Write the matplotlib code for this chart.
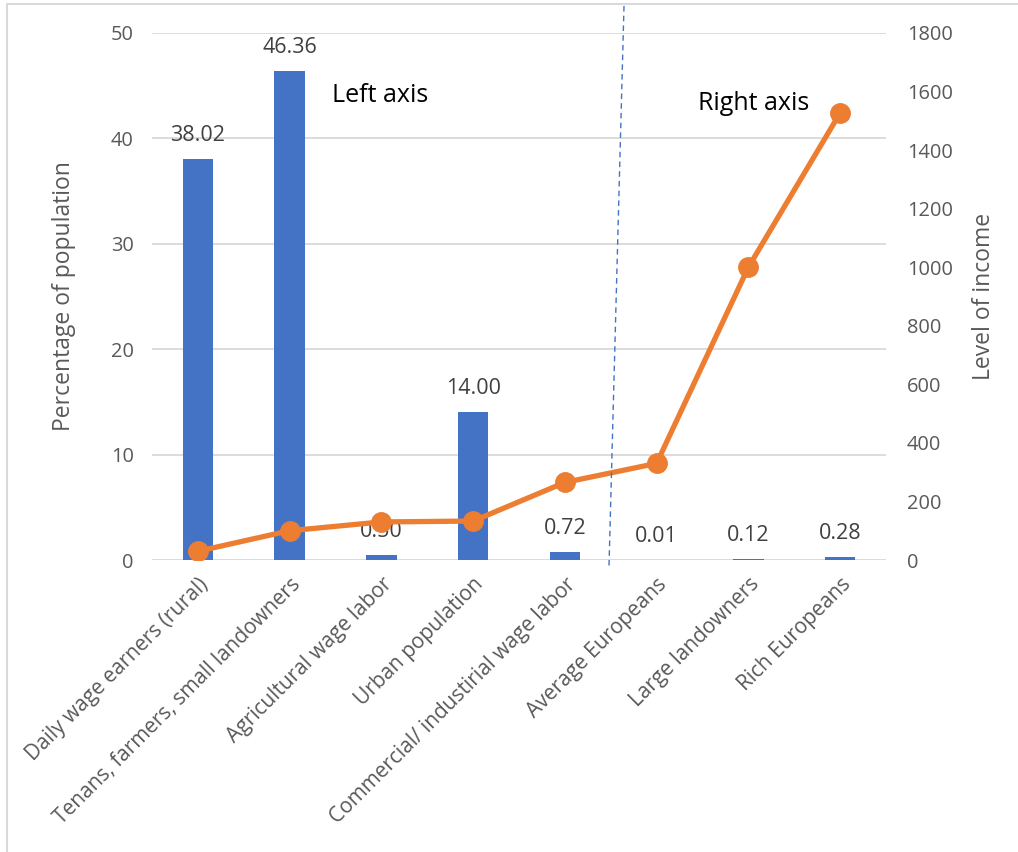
import matplotlib
matplotlib.use("Agg")
import matplotlib.pyplot as plt
from matplotlib.lines import Line2D

categories = ["Daily wage earners (rural)", "Tenans, farmers, small landowners",
              "Agricultural wage labor", "Urban population",
              "Commercial/ industirial wage labor", "Average Europeans",
              "Large landowners", "Rich Europeans"]
population_pct = [38.02, 46.36, 0.50, 14.00, 0.72, 0.01, 0.12, 0.28]
income_level = [30, 100, 130, 133, 265, 330, 1000, 1527]
left_ticks = [0, 10, 20, 30, 40, 50]
right_ticks = [0, 200, 400, 600, 800, 1000, 1200, 1400, 1600, 1800]

plt.rcParams['font.family'] = ['Open Sans', 'DejaVu Sans']
W, H = 1018, 852
fig = plt.figure(figsize=(W / 100, H / 100), dpi=100)
ax = fig.add_axes([152 / W, 1 - 560 / H, (886 - 152) / W, (560 - 33) / H])

grey_txt = "#595959"
x = list(range(len(categories)))
ax.bar(x, population_pct, width=0.33, color="#4472C4", zorder=2)
ax.set_ylim(0, 50)
ax.set_xlim(-0.5, len(categories) - 0.5)
ax.set_yticks(left_ticks)
ax.grid(axis='y', color="#D9D9D9", linewidth=1.3, zorder=0)
ax.set_axisbelow(True)
for s in ax.spines.values():
    s.set_visible(False)
ax.tick_params(axis='both', length=0, labelsize=14.4, colors=grey_txt)
ax.tick_params(axis='y', pad=13)
ax.set_xticks(x)
ax.set_xticklabels(categories, rotation=45, ha='right', rotation_mode='anchor',
                   fontsize=15, color=grey_txt)
ax.tick_params(axis='x', pad=10)
ax.set_ylabel("Percentage of population", fontsize=16.5, color=grey_txt, labelpad=25)

for xi, v in zip(x, population_pct):
    ax.annotate(f"{v:.2f}", (xi, v), xytext=(0, 17), textcoords='offset points',
                ha='center', va='center', fontsize=15.5, color="#404040", zorder=1)

ax2 = ax.twinx()
ax2.plot(x, income_level, color="#ED7D31", linewidth=3.8, marker='o',
         markersize=14, zorder=3)
ax2.set_ylim(0, 1800)
ax2.set_yticks(right_ticks)
for s in ax2.spines.values():
    s.set_visible(False)
ax2.tick_params(axis='y', length=0, labelsize=14.4, colors=grey_txt, pad=15)
ax2.set_ylabel("Level of income", fontsize=16.5, color=grey_txt, labelpad=14)

fig.text(332 / W, 1 - 95 / H, "Left axis", fontsize=18, color="black", va='center', ha='left')
fig.text(698 / W, 1 - 104 / H, "Right axis", fontsize=18, color="black", va='center', ha='left')

fig.add_artist(Line2D([624 / W, 609 / W], [1 - 6 / H, 1 - 566 / H], transform=fig.transFigure,
                      color="#4472C4", linewidth=1.0, linestyle=(0, (4, 3))))
fig.add_artist(Line2D([7 / W, 7 / W, 1.0], [0.0, 1 - 4 / H, 1 - 4 / H], transform=fig.transFigure,
                      color="#D9D9D9", linewidth=1.5))

fig.savefig("out.png", dpi=100)
